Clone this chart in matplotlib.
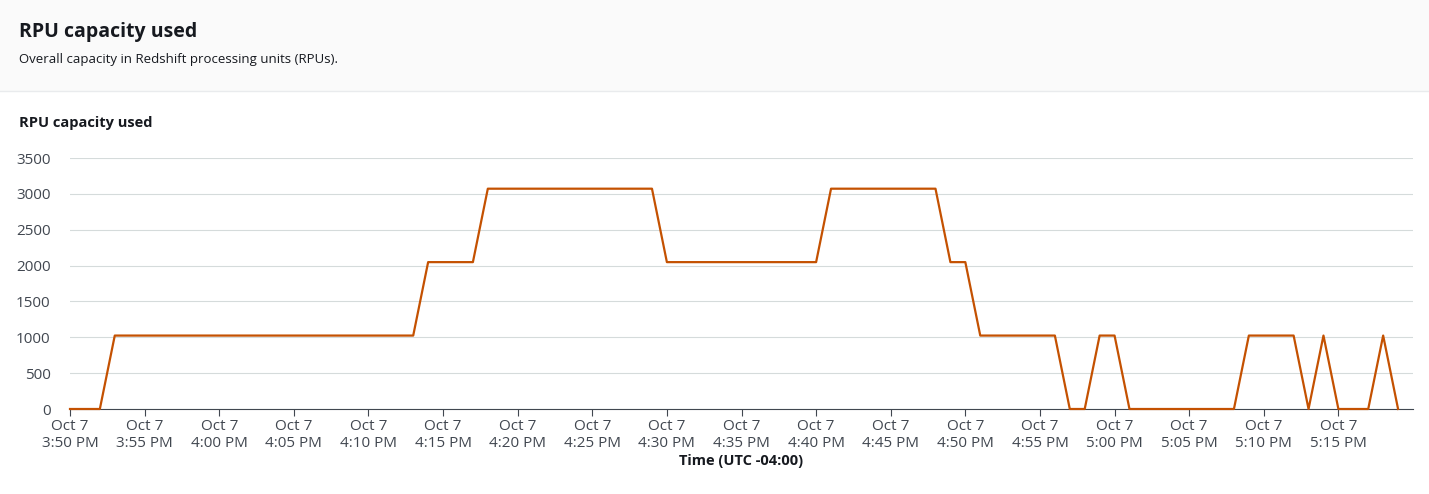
import matplotlib.pyplot as plt
import matplotlib.patches as mpatches

minutes = [0, 2, 3, 23, 24, 27, 28, 39, 40, 50, 51, 58, 59, 60, 61, 66, 67, 68, 69, 70, 71, 78, 79, 82, 83, 84, 85, 87, 88, 89]
rpu = [0, 0, 1024, 1024, 2048, 2048, 3072, 3072, 2048, 2048, 3072, 3072, 2048, 2048, 1024, 1024, 0, 0, 1024, 1024, 0, 0, 1024, 1024, 0, 1024, 0, 0, 1024, 0]
tick_minutes = list(range(0, 90, 5))
tick_labels = []
for m in tick_minutes:
    t = 15 * 60 + 50 + m
    h, mm = divmod(t, 60)
    tick_labels.append(f"Oct 7\n{h-12}:{mm:02d} PM")
yticks = [0, 500, 1000, 1500, 2000, 2500, 3000, 3500]

plt.rcParams['font.family'] = ['Open Sans', 'DejaVu Sans']
fig = plt.figure(figsize=(14.29, 4.94), dpi=100)
fig.patches.append(mpatches.Rectangle((0, 1 - 91/494), 1, 91/494, transform=fig.transFigure,
                                      facecolor='#fafafa', edgecolor='none', zorder=0))
fig.add_artist(plt.Line2D([0, 1], [1 - 91/494]*2, color='#e9ebed', lw=1))
fig.text(19/1429, 1 - 32/494, "RPU capacity used", fontsize=14, fontweight='bold', color='#16191f', va='center')
fig.text(19/1429, 1 - 59/494, "Overall capacity in Redshift processing units (RPUs).", fontsize=9.5, color='#16191f', va='center')
fig.text(19/1429, 1 - 123/494, "RPU capacity used", fontsize=10.5, fontweight='bold', color='#16191f', va='center')

ax = fig.add_axes([70/1429, 1 - 409/494, (1413-70)/1429, (409-158)/494])
ax.plot(minutes, rpu, color='#c45101', lw=1.6, clip_on=False, zorder=3)
ax.set_xlim(0, 90)
ax.set_ylim(0, 3500)
ax.set_yticks(yticks)
ax.set_xticks(tick_minutes)
ax.set_xticklabels(tick_labels, fontsize=11, color='#414750')
ax.tick_params(axis='y', labelsize=11, labelcolor='#414750', length=0, pad=14)
ax.tick_params(axis='x', length=5, color='#414750', pad=2)
ax.grid(axis='y', color='#d5dbdb', lw=0.8)
for s in ['top', 'right', 'left']:
    ax.spines[s].set_visible(False)
ax.spines['bottom'].set_color('#414750')
ax.set_xlabel("Time (UTC -04:00)", fontsize=10.5, fontweight='bold', color='#16191f', labelpad=2)
fig.savefig('out.png', dpi=100)
